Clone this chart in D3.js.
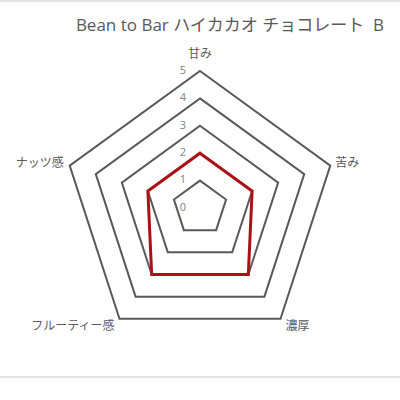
<!DOCTYPE html>
<html>
<head>
<meta charset="utf-8">
<script src="https://cdn.jsdelivr.net/npm/d3@7"></script>
<style>
  body { margin: 0; background: #fff; }
  text { font-family: "Open Sans", "Noto Sans CJK JP", sans-serif; }
</style>
</head>
<body>
<script>
const width = 400, height = 400;

const title = "Bean to Bar ハイカカオ チョコレート  B";
const axes = ["甘み", "苦み", "濃厚", "フルーティー感", "ナッツ感"];
const values = [2, 2, 3, 3, 2];
const ticks = [0, 1, 2, 3, 4, 5];

const cx = 200, cy = 208;

const svg = d3.select("body").append("svg")
    .attr("width", width)
    .attr("height", height);

// frame lines (top / bottom of chart area)
svg.append("line").attr("x1", 0).attr("x2", width).attr("y1", 1).attr("y2", 1)
    .attr("stroke", "#d9d9d9").attr("stroke-width", 1.5);
svg.append("line").attr("x1", 0).attr("x2", width).attr("y1", 377).attr("y2", 377)
    .attr("stroke", "#d9d9d9").attr("stroke-width", 1.5);

svg.append("text")
    .attr("x", 230).attr("y", 31)
    .attr("text-anchor", "middle")
    .attr("fill", "#595959")
    .style("font-size", "17px")
    .style("white-space", "pre")
    .text(title);

const r = d3.scaleLinear().domain([0, 5]).range([0, 137]);
const angle = d3.scaleLinear().domain([0, axes.length]).range([0, 2 * Math.PI]);

const pt = (i, v) => {
    const a = angle(i);
    return [cx + r(v) * Math.sin(a), cy - r(v) * Math.cos(a)];
};

const g = svg.append("g");

// grid rings (0 is the centre point)
g.selectAll("path.ring")
    .data(ticks.filter(t => t > 0))
    .enter()
    .append("path")
    .attr("class", "ring")
    .attr("d", function (t) { return d3.line()(axes.map((a, i) => pt(i, t))) + "Z"; })
    .attr("fill", "none")
    .attr("stroke", "#595959")
    .attr("stroke-width", 2);

// ring labels
g.selectAll("text.tick")
    .data(ticks)
    .enter()
    .append("text")
    .attr("class", "tick")
    .attr("x", cx - 17)
    .attr("y", function (t) { return cy - r(t) - 1; })
    .attr("dy", "0.35em")
    .attr("text-anchor", "middle")
    .attr("fill", "#7f7f7f")
    .style("font-size", "11px")
    .text(function (t) { return t; });

// series
g.append("path")
    .attr("d", d3.line()(values.map((v, i) => pt(i, v))) + "Z")
    .attr("fill", "none")
    .attr("stroke", "#ab1218")
    .attr("stroke-width", 3)
    .attr("stroke-linejoin", "miter");

// axis labels
const labelPos = [
    { dx: 0, dy: -17, anchor: "middle" },
    { dx: 5, dy: -3, anchor: "start" },
    { dx: 5, dy: 7, anchor: "start" },
    { dx: -5, dy: 7, anchor: "end" },
    { dx: -6, dy: -3, anchor: "end" }
];

g.selectAll("text.axis")
    .data(axes)
    .enter()
    .append("text")
    .attr("class", "axis")
    .attr("x", function (d, i) { return pt(i, 5)[0] + labelPos[i].dx; })
    .attr("y", function (d, i) { return pt(i, 5)[1] + labelPos[i].dy; })
    .attr("dy", "0.35em")
    .attr("text-anchor", function (d, i) { return labelPos[i].anchor; })
    .attr("fill", "#595959")
    .style("font-size", "12px")
    .text(function (d) { return d; });
</script>
</body>
</html>
